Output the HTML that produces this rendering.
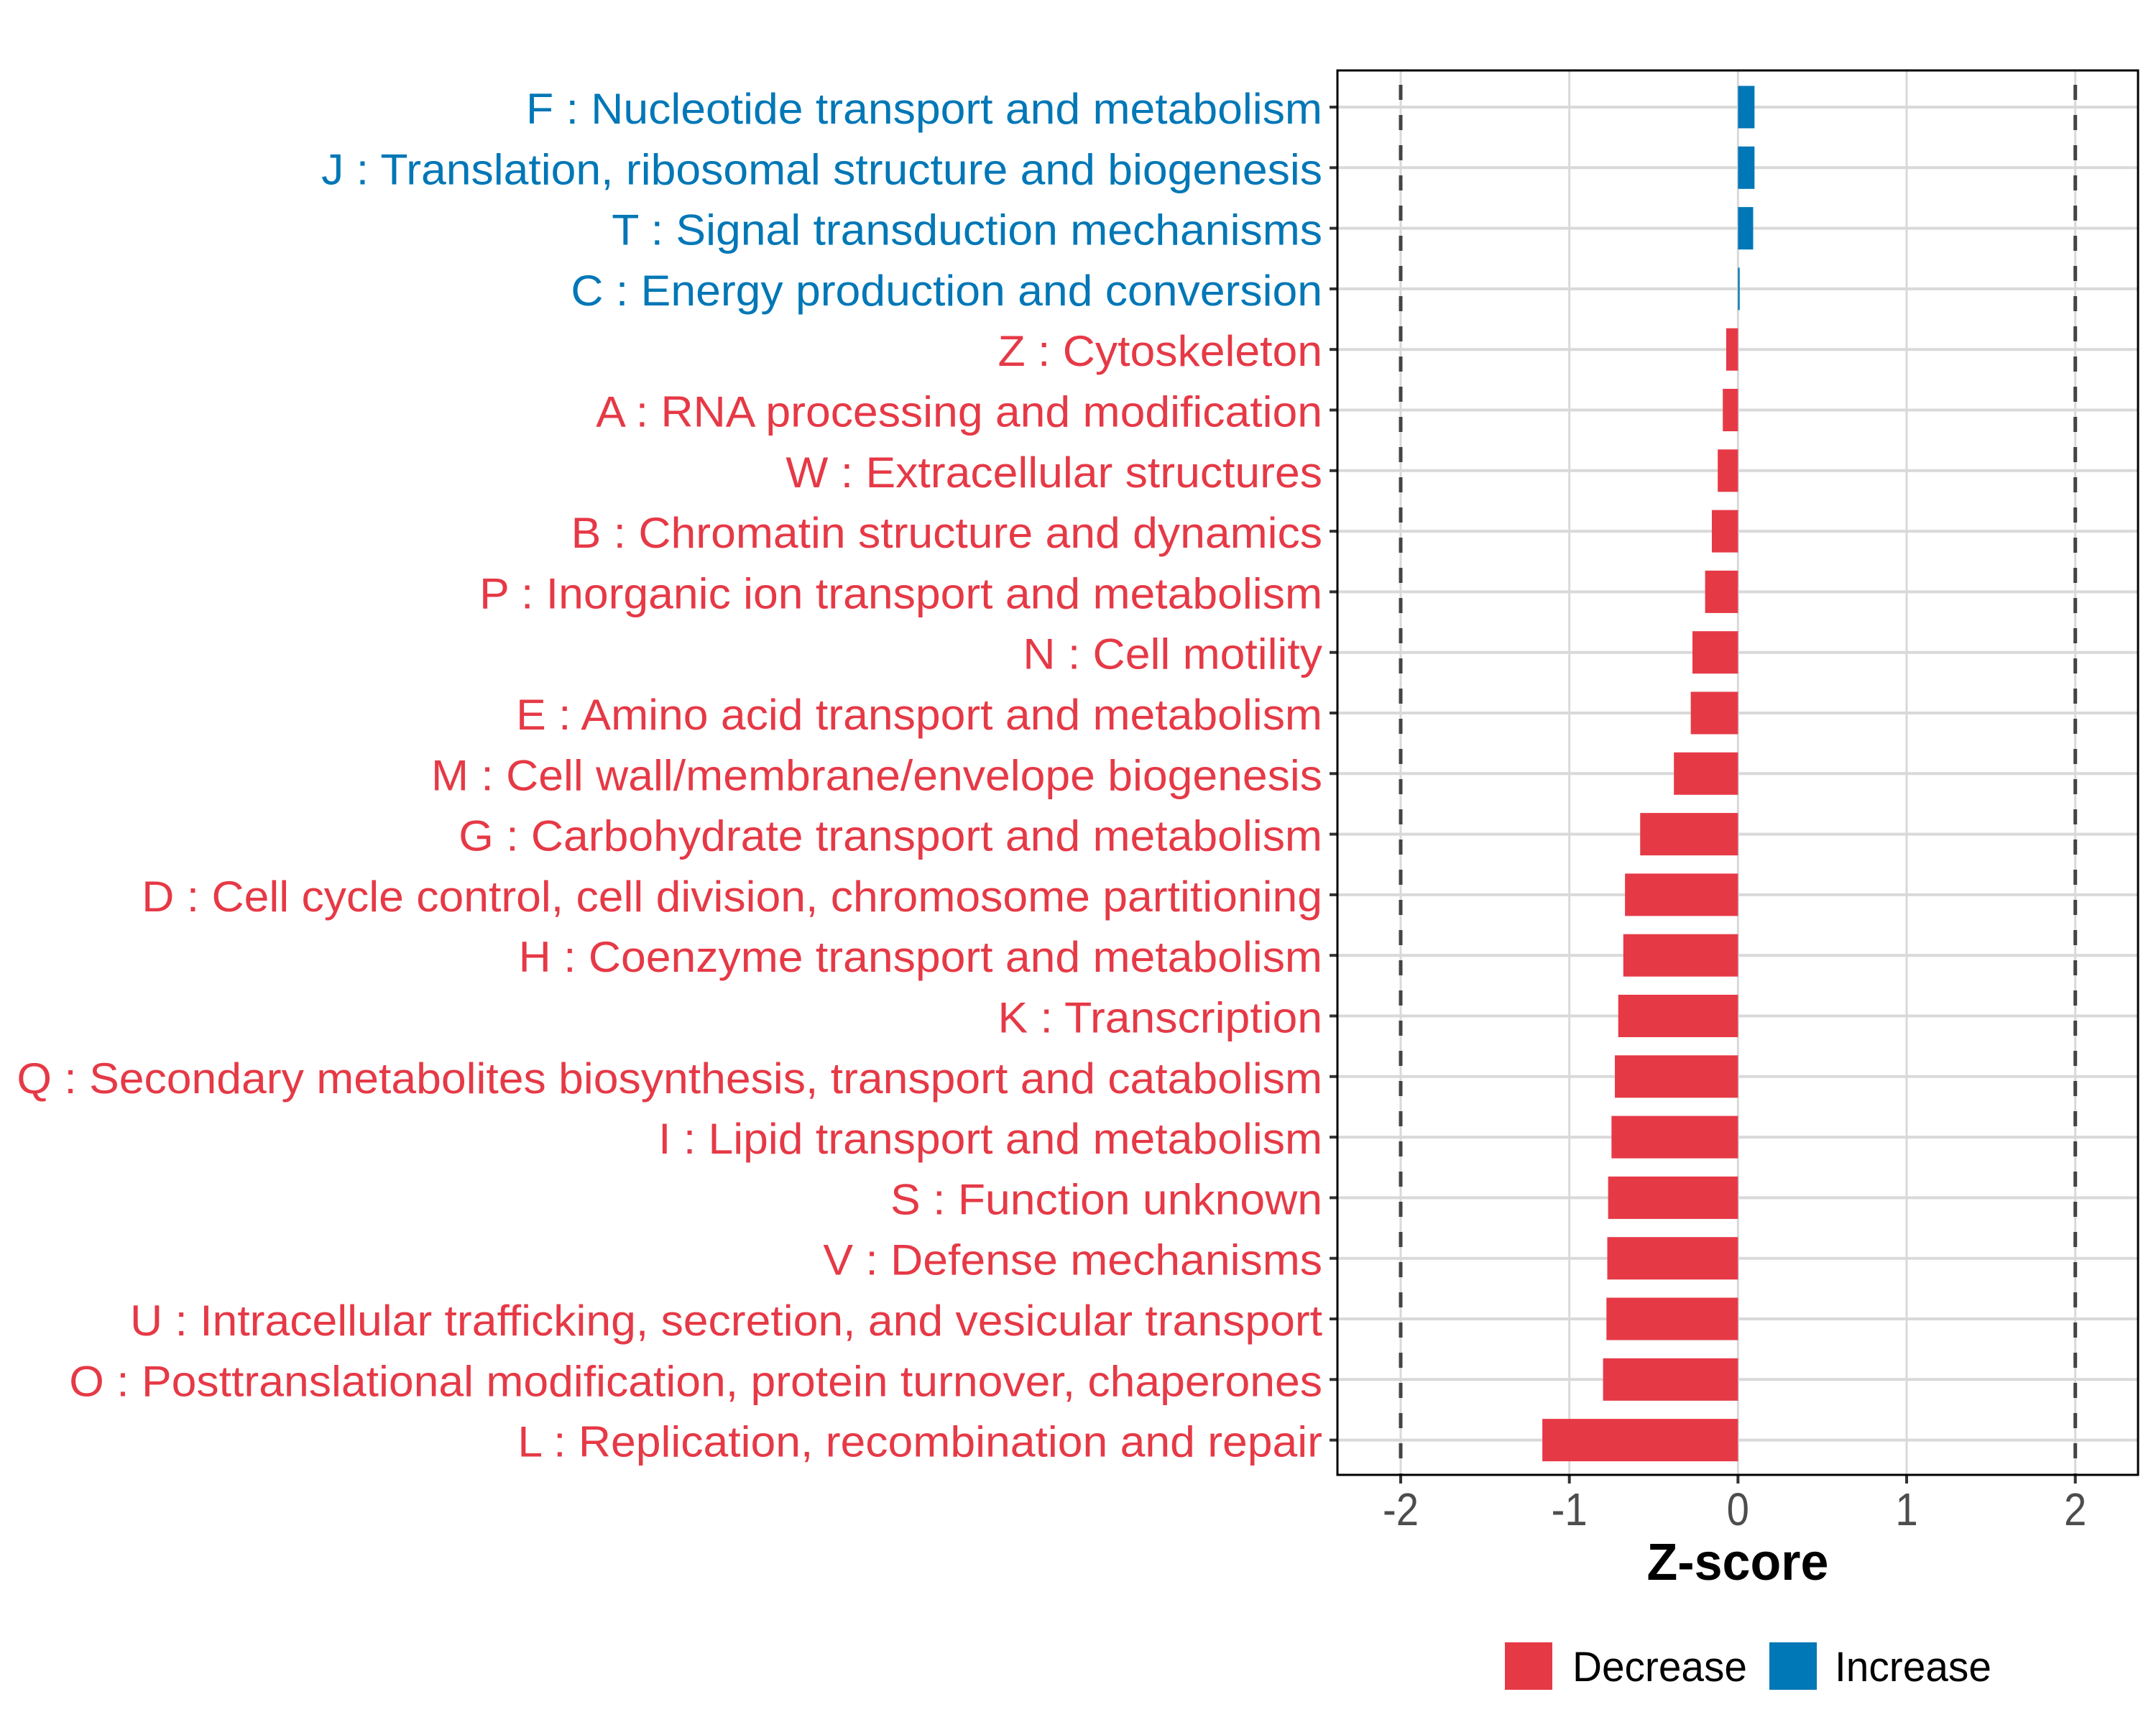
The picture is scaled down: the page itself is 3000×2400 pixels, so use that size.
<!DOCTYPE html>
<html><head><meta charset="utf-8"><style>
html,body{margin:0;padding:0;background:#fff;}
svg{display:block;font-family:"Liberation Sans",Arial,sans-serif;}
</style></head><body>
<svg id="chart" width="3000" height="2400" viewBox="0 0 3000 2400">
<g id="grid"></g>
<g id="bars"></g>
<g id="refs"></g>
<g id="ylabels"></g>
<g id="xaxis"></g>
<rect x="1861" y="98" width="1114" height="1954" fill="none" stroke="#000" stroke-width="3"/>
<text x="2418" y="2198" font-size="72" font-weight="bold" text-anchor="middle" fill="#000" id="xtitle">Z-score</text>
<g>
<rect x="2094" y="2285" width="66" height="66" fill="#E63946"/>
<text id="lg1" x="2188" y="2339" font-size="58" fill="#000">Decrease</text>
<rect x="2462" y="2285" width="66" height="66" fill="#0077B6"/>
<text id="lg2" x="2553" y="2339" font-size="58" fill="#000">Increase</text>
</g>
</svg>
<script>
const categories = [
"F : Nucleotide transport and metabolism",
"J : Translation, ribosomal structure and biogenesis",
"T : Signal transduction mechanisms",
"C : Energy production and conversion",
"Z : Cytoskeleton",
"A : RNA processing and modification",
"W : Extracellular structures",
"B : Chromatin structure and dynamics",
"P : Inorganic ion transport and metabolism",
"N : Cell motility",
"E : Amino acid transport and metabolism",
"M : Cell wall/membrane/envelope biogenesis",
"G : Carbohydrate transport and metabolism",
"D : Cell cycle control, cell division, chromosome partitioning",
"H : Coenzyme transport and metabolism",
"K : Transcription",
"Q : Secondary metabolites biosynthesis, transport and catabolism",
"I : Lipid transport and metabolism",
"S : Function unknown",
"V : Defense mechanisms",
"U : Intracellular trafficking, secretion, and vesicular transport",
"O : Posttranslational modification, protein turnover, chaperones",
"L : Replication, recombination and repair"];
const zscores = [0.098,0.098,0.09,0.01,-0.07,-0.09,-0.12,-0.155,-0.195,-0.27,-0.28,-0.38,-0.58,-0.67,-0.68,-0.71,-0.73,-0.75,-0.77,-0.775,-0.78,-0.80,-1.16];
const xTicks = [-2,-1,0,1,2];
const xTickLabels = ["-2","-1","0","1","2"];
const refLines = [-2,2];

const NS="http://www.w3.org/2000/svg";
const X0=1861, X1=2975, Y0=98, Y1=2052;
const xMin=-2.375, xMax=2.372;
function xs(v){return X0+(v-xMin)/(xMax-xMin)*(X1-X0);}
const rowTop=149, rowStep=84.3;
function ys(i){return rowTop+i*rowStep;}
function mk(tag,attrs,parent){const e=document.createElementNS(NS,tag);for(const k in attrs)e.setAttribute(k,attrs[k]);parent.appendChild(e);return e;}
const grid=document.getElementById('grid'), bars=document.getElementById('bars'), refs=document.getElementById('refs'), yl=document.getElementById('ylabels'), xa=document.getElementById('xaxis');

xTicks.forEach(t=>{const x=xs(t);const l=mk('line',{x1:x,x2:x,y1:Y0,y2:Y1,stroke:'#d9d9d9','stroke-width':3},grid);

});
categories.forEach((c,i)=>{const y=ys(i);const l=mk('line',{x1:X0,x2:X1,y1:y,y2:y,stroke:'#d9d9d9','stroke-width':4},grid);

});

categories.forEach((c,i)=>{const v=zscores[i];const y=ys(i);const a=xs(0),b=xs(v);
const r=mk('rect',{x:Math.min(a,b),y:y-29.5,width:Math.max(Math.abs(b-a),2),height:59,fill:v>=0?'#0077B6':'#E63946'},bars);

});

refLines.forEach(v=>{const x=xs(v);const l=mk('line',{x1:x,x2:x,y1:Y0,y2:Y1,stroke:'#444','stroke-width':5,'stroke-dasharray':'21 21','stroke-dashoffset':'-20'},refs);

});

const labels=[];
categories.forEach((c,i)=>{const y=ys(i);
const tk=mk('line',{x1:X0-11,x2:X0,y1:y,y2:y,stroke:'#333','stroke-width':4},yl);


const t=mk('text',{x:1840,y:y+23,'font-size':60,'text-anchor':'end',fill:zscores[i]>=0?'#0077B6':'#E63946'},yl);
t.textContent=c;


labels.push(t);});
const qi=16;const w=labels[qi].getComputedTextLength();const s=1817/w;
labels.forEach(t=>{t.setAttribute('transform','translate(1840,0) scale('+s+',1) translate(-1840,0)');});

xTicks.forEach((t,i)=>{const x=xs(t);
const tk=mk('line',{x1:x,x2:x,y1:Y1,y2:Y1+12,stroke:'#333','stroke-width':4},xa);


const lb=mk('text',{x:x,y:2122,'font-size':64,'text-anchor':'middle',fill:'#4d4d4d'},xa);
lb.textContent=xTickLabels[i];


lb.setAttribute('transform','translate('+x+',0) scale(0.88,1) translate('+(-x)+',0)');});
const xt=document.getElementById('xtitle');const xw=xt.getComputedTextLength();
xt.setAttribute('transform','translate(2418,0) scale('+(253/xw)+',1) translate(-2418,0)');
function fit(id,x0,target){const e=document.getElementById(id);const ww=e.getComputedTextLength();e.setAttribute('transform','translate('+x0+',0) scale('+(target/ww)+',1) translate('+(-x0)+',0)');}
fit('lg1',2188,243);
fit('lg2',2553,218);
</script>
</body></html>
